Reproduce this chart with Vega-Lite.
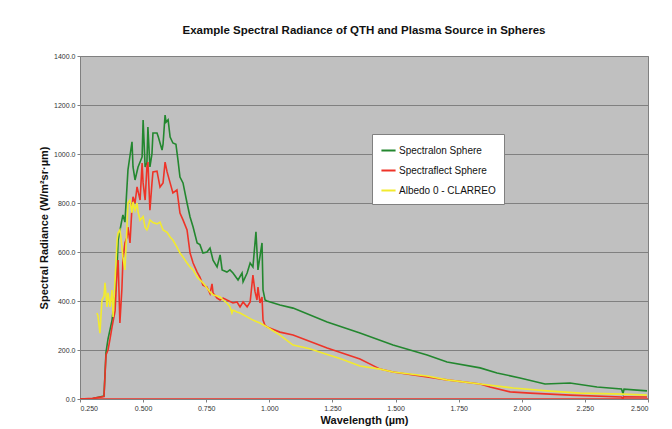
{
  "$schema": "https://vega.github.io/schema/vega-lite/v6.json",
  "width": 568,
  "height": 343,
  "autosize": {"type": "none"},
  "padding": {"left": 80, "top": 56, "right": 24, "bottom": 30},
  "background": "white",
  "title": {"text": "Example Spectral Radiance of QTH and Plasma Source in Spheres", "font": "Liberation Sans", "fontSize": 11.5, "fontWeight": "bold", "color": "#111111", "offset": 16, "anchor": "middle"},
  "config": {
    "view": {"fill": "#C0C0C0", "stroke": "#808080", "strokeWidth": 1},
    "font": "Liberation Sans"
  },
  "datasets": {
    "spec": [
      {"s": "Spectralon Sphere", "g": "a", "w": 0.250, "r": 0},
      {"s": "Spectralon Sphere", "g": "a", "w": 0.300, "r": 2},
      {"s": "Spectralon Sphere", "g": "a", "w": 0.345, "r": 12},
      {"s": "Spectralon Sphere", "g": "a", "w": 0.353, "r": 190},
      {"s": "Spectralon Sphere", "g": "a", "w": 0.361, "r": 245},
      {"s": "Spectralon Sphere", "g": "a", "w": 0.377, "r": 322},
      {"s": "Spectralon Sphere", "g": "a", "w": 0.389, "r": 433},
      {"s": "Spectralon Sphere", "g": "a", "w": 0.397, "r": 539},
      {"s": "Spectralon Sphere", "g": "a", "w": 0.401, "r": 649},
      {"s": "Spectralon Sphere", "g": "a", "w": 0.416, "r": 731},
      {"s": "Spectralon Sphere", "g": "a", "w": 0.420, "r": 751},
      {"s": "Spectralon Sphere", "g": "a", "w": 0.428, "r": 722},
      {"s": "Spectralon Sphere", "g": "a", "w": 0.440, "r": 935},
      {"s": "Spectralon Sphere", "g": "a", "w": 0.456, "r": 1050},
      {"s": "Spectralon Sphere", "g": "a", "w": 0.460, "r": 947},
      {"s": "Spectralon Sphere", "g": "a", "w": 0.468, "r": 894},
      {"s": "Spectralon Sphere", "g": "a", "w": 0.480, "r": 947},
      {"s": "Spectralon Sphere", "g": "a", "w": 0.496, "r": 988},
      {"s": "Spectralon Sphere", "g": "a", "w": 0.500, "r": 1139},
      {"s": "Spectralon Sphere", "g": "a", "w": 0.508, "r": 947},
      {"s": "Spectralon Sphere", "g": "a", "w": 0.515, "r": 963},
      {"s": "Spectralon Sphere", "g": "a", "w": 0.519, "r": 1110},
      {"s": "Spectralon Sphere", "g": "a", "w": 0.527, "r": 947},
      {"s": "Spectralon Sphere", "g": "a", "w": 0.535, "r": 1000},
      {"s": "Spectralon Sphere", "g": "a", "w": 0.539, "r": 1086},
      {"s": "Spectralon Sphere", "g": "a", "w": 0.555, "r": 1086},
      {"s": "Spectralon Sphere", "g": "a", "w": 0.560, "r": 1070},
      {"s": "Spectralon Sphere", "g": "a", "w": 0.575, "r": 1016},
      {"s": "Spectralon Sphere", "g": "a", "w": 0.579, "r": 1040},
      {"s": "Spectralon Sphere", "g": "a", "w": 0.587, "r": 1159},
      {"s": "Spectralon Sphere", "g": "a", "w": 0.591, "r": 1130},
      {"s": "Spectralon Sphere", "g": "a", "w": 0.599, "r": 1139},
      {"s": "Spectralon Sphere", "g": "a", "w": 0.607, "r": 1069},
      {"s": "Spectralon Sphere", "g": "a", "w": 0.618, "r": 1045},
      {"s": "Spectralon Sphere", "g": "a", "w": 0.630, "r": 1040},
      {"s": "Spectralon Sphere", "g": "a", "w": 0.638, "r": 976},
      {"s": "Spectralon Sphere", "g": "a", "w": 0.646, "r": 906},
      {"s": "Spectralon Sphere", "g": "a", "w": 0.658, "r": 882},
      {"s": "Spectralon Sphere", "g": "a", "w": 0.674, "r": 800},
      {"s": "Spectralon Sphere", "g": "a", "w": 0.686, "r": 743},
      {"s": "Spectralon Sphere", "g": "a", "w": 0.698, "r": 702},
      {"s": "Spectralon Sphere", "g": "a", "w": 0.714, "r": 637},
      {"s": "Spectralon Sphere", "g": "a", "w": 0.725, "r": 630},
      {"s": "Spectralon Sphere", "g": "a", "w": 0.737, "r": 596},
      {"s": "Spectralon Sphere", "g": "a", "w": 0.753, "r": 600},
      {"s": "Spectralon Sphere", "g": "a", "w": 0.765, "r": 616},
      {"s": "Spectralon Sphere", "g": "a", "w": 0.777, "r": 567},
      {"s": "Spectralon Sphere", "g": "a", "w": 0.793, "r": 539},
      {"s": "Spectralon Sphere", "g": "a", "w": 0.805, "r": 588},
      {"s": "Spectralon Sphere", "g": "a", "w": 0.813, "r": 527},
      {"s": "Spectralon Sphere", "g": "a", "w": 0.832, "r": 518},
      {"s": "Spectralon Sphere", "g": "a", "w": 0.844, "r": 527},
      {"s": "Spectralon Sphere", "g": "a", "w": 0.856, "r": 514},
      {"s": "Spectralon Sphere", "g": "a", "w": 0.876, "r": 486},
      {"s": "Spectralon Sphere", "g": "a", "w": 0.892, "r": 514},
      {"s": "Spectralon Sphere", "g": "a", "w": 0.896, "r": 478},
      {"s": "Spectralon Sphere", "g": "a", "w": 0.912, "r": 514},
      {"s": "Spectralon Sphere", "g": "a", "w": 0.924, "r": 555},
      {"s": "Spectralon Sphere", "g": "a", "w": 0.935, "r": 539},
      {"s": "Spectralon Sphere", "g": "a", "w": 0.947, "r": 682},
      {"s": "Spectralon Sphere", "g": "a", "w": 0.955, "r": 527},
      {"s": "Spectralon Sphere", "g": "a", "w": 0.971, "r": 637},
      {"s": "Spectralon Sphere", "g": "a", "w": 0.975, "r": 445},
      {"s": "Spectralon Sphere", "g": "a", "w": 0.983, "r": 404},
      {"s": "Spectralon Sphere", "g": "a", "w": 0.991, "r": 400},
      {"s": "Spectralon Sphere", "g": "a", "w": 1.042, "r": 384},
      {"s": "Spectralon Sphere", "g": "a", "w": 1.094, "r": 371},
      {"s": "Spectralon Sphere", "g": "a", "w": 1.229, "r": 314},
      {"s": "Spectralon Sphere", "g": "a", "w": 1.359, "r": 269},
      {"s": "Spectralon Sphere", "g": "a", "w": 1.490, "r": 220},
      {"s": "Spectralon Sphere", "g": "a", "w": 1.625, "r": 180},
      {"s": "Spectralon Sphere", "g": "a", "w": 1.704, "r": 151},
      {"s": "Spectralon Sphere", "g": "a", "w": 1.835, "r": 127},
      {"s": "Spectralon Sphere", "g": "a", "w": 1.902, "r": 106},
      {"s": "Spectralon Sphere", "g": "a", "w": 1.993, "r": 86},
      {"s": "Spectralon Sphere", "g": "a", "w": 2.092, "r": 61},
      {"s": "Spectralon Sphere", "g": "a", "w": 2.191, "r": 65},
      {"s": "Spectralon Sphere", "g": "a", "w": 2.298, "r": 49},
      {"s": "Spectralon Sphere", "g": "a", "w": 2.395, "r": 41},
      {"s": "Spectralon Sphere", "g": "a", "w": 2.401, "r": 22},
      {"s": "Spectralon Sphere", "g": "a", "w": 2.405, "r": 40},
      {"s": "Spectralon Sphere", "g": "a", "w": 2.496, "r": 33},

      {"s": "Spectraflect Sphere", "g": "a", "w": 0.250, "r": 0},
      {"s": "Spectraflect Sphere", "g": "a", "w": 0.300, "r": 3},
      {"s": "Spectraflect Sphere", "g": "a", "w": 0.345, "r": 10},
      {"s": "Spectraflect Sphere", "g": "a", "w": 0.353, "r": 180},
      {"s": "Spectraflect Sphere", "g": "a", "w": 0.361, "r": 200},
      {"s": "Spectraflect Sphere", "g": "a", "w": 0.369, "r": 245},
      {"s": "Spectraflect Sphere", "g": "a", "w": 0.377, "r": 294},
      {"s": "Spectraflect Sphere", "g": "a", "w": 0.389, "r": 360},
      {"s": "Spectraflect Sphere", "g": "a", "w": 0.397, "r": 527},
      {"s": "Spectraflect Sphere", "g": "a", "w": 0.401, "r": 567},
      {"s": "Spectraflect Sphere", "g": "a", "w": 0.408, "r": 310},
      {"s": "Spectraflect Sphere", "g": "a", "w": 0.416, "r": 450},
      {"s": "Spectraflect Sphere", "g": "a", "w": 0.420, "r": 567},
      {"s": "Spectraflect Sphere", "g": "a", "w": 0.428, "r": 637},
      {"s": "Spectraflect Sphere", "g": "a", "w": 0.436, "r": 660},
      {"s": "Spectraflect Sphere", "g": "a", "w": 0.440, "r": 702},
      {"s": "Spectraflect Sphere", "g": "a", "w": 0.448, "r": 637},
      {"s": "Spectraflect Sphere", "g": "a", "w": 0.456, "r": 784},
      {"s": "Spectraflect Sphere", "g": "a", "w": 0.460, "r": 825},
      {"s": "Spectraflect Sphere", "g": "a", "w": 0.468, "r": 800},
      {"s": "Spectraflect Sphere", "g": "a", "w": 0.476, "r": 866},
      {"s": "Spectraflect Sphere", "g": "a", "w": 0.488, "r": 812},
      {"s": "Spectraflect Sphere", "g": "a", "w": 0.496, "r": 963},
      {"s": "Spectraflect Sphere", "g": "a", "w": 0.500, "r": 882},
      {"s": "Spectraflect Sphere", "g": "a", "w": 0.508, "r": 812},
      {"s": "Spectraflect Sphere", "g": "a", "w": 0.515, "r": 947},
      {"s": "Spectraflect Sphere", "g": "a", "w": 0.519, "r": 967},
      {"s": "Spectraflect Sphere", "g": "a", "w": 0.527, "r": 771},
      {"s": "Spectraflect Sphere", "g": "a", "w": 0.535, "r": 880},
      {"s": "Spectraflect Sphere", "g": "a", "w": 0.539, "r": 927},
      {"s": "Spectraflect Sphere", "g": "a", "w": 0.555, "r": 930},
      {"s": "Spectraflect Sphere", "g": "a", "w": 0.567, "r": 865},
      {"s": "Spectraflect Sphere", "g": "a", "w": 0.579, "r": 882},
      {"s": "Spectraflect Sphere", "g": "a", "w": 0.587, "r": 967},
      {"s": "Spectraflect Sphere", "g": "a", "w": 0.595, "r": 927},
      {"s": "Spectraflect Sphere", "g": "a", "w": 0.607, "r": 882},
      {"s": "Spectraflect Sphere", "g": "a", "w": 0.618, "r": 841},
      {"s": "Spectraflect Sphere", "g": "a", "w": 0.634, "r": 853},
      {"s": "Spectraflect Sphere", "g": "a", "w": 0.646, "r": 759},
      {"s": "Spectraflect Sphere", "g": "a", "w": 0.658, "r": 731},
      {"s": "Spectraflect Sphere", "g": "a", "w": 0.674, "r": 690},
      {"s": "Spectraflect Sphere", "g": "a", "w": 0.686, "r": 596},
      {"s": "Spectraflect Sphere", "g": "a", "w": 0.698, "r": 555},
      {"s": "Spectraflect Sphere", "g": "a", "w": 0.714, "r": 518},
      {"s": "Spectraflect Sphere", "g": "a", "w": 0.725, "r": 498},
      {"s": "Spectraflect Sphere", "g": "a", "w": 0.737, "r": 465},
      {"s": "Spectraflect Sphere", "g": "a", "w": 0.753, "r": 457},
      {"s": "Spectraflect Sphere", "g": "a", "w": 0.765, "r": 430},
      {"s": "Spectraflect Sphere", "g": "a", "w": 0.773, "r": 470},
      {"s": "Spectraflect Sphere", "g": "a", "w": 0.777, "r": 433},
      {"s": "Spectraflect Sphere", "g": "a", "w": 0.793, "r": 412},
      {"s": "Spectraflect Sphere", "g": "a", "w": 0.805, "r": 404},
      {"s": "Spectraflect Sphere", "g": "a", "w": 0.817, "r": 412},
      {"s": "Spectraflect Sphere", "g": "a", "w": 0.832, "r": 404},
      {"s": "Spectraflect Sphere", "g": "a", "w": 0.856, "r": 392},
      {"s": "Spectraflect Sphere", "g": "a", "w": 0.872, "r": 396},
      {"s": "Spectraflect Sphere", "g": "a", "w": 0.884, "r": 376},
      {"s": "Spectraflect Sphere", "g": "a", "w": 0.896, "r": 396},
      {"s": "Spectraflect Sphere", "g": "a", "w": 0.912, "r": 376},
      {"s": "Spectraflect Sphere", "g": "a", "w": 0.924, "r": 396},
      {"s": "Spectraflect Sphere", "g": "a", "w": 0.935, "r": 506},
      {"s": "Spectraflect Sphere", "g": "a", "w": 0.943, "r": 440},
      {"s": "Spectraflect Sphere", "g": "a", "w": 0.951, "r": 404},
      {"s": "Spectraflect Sphere", "g": "a", "w": 0.955, "r": 457},
      {"s": "Spectraflect Sphere", "g": "a", "w": 0.963, "r": 392},
      {"s": "Spectraflect Sphere", "g": "a", "w": 0.971, "r": 416},
      {"s": "Spectraflect Sphere", "g": "a", "w": 0.975, "r": 322},
      {"s": "Spectraflect Sphere", "g": "a", "w": 0.983, "r": 300},
      {"s": "Spectraflect Sphere", "g": "a", "w": 0.991, "r": 294},
      {"s": "Spectraflect Sphere", "g": "a", "w": 1.042, "r": 273},
      {"s": "Spectraflect Sphere", "g": "a", "w": 1.094, "r": 261},
      {"s": "Spectraflect Sphere", "g": "a", "w": 1.229, "r": 208},
      {"s": "Spectraflect Sphere", "g": "a", "w": 1.359, "r": 163},
      {"s": "Spectraflect Sphere", "g": "a", "w": 1.439, "r": 122},
      {"s": "Spectraflect Sphere", "g": "a", "w": 1.490, "r": 110},
      {"s": "Spectraflect Sphere", "g": "a", "w": 1.625, "r": 90},
      {"s": "Spectraflect Sphere", "g": "a", "w": 1.704, "r": 78},
      {"s": "Spectraflect Sphere", "g": "a", "w": 1.835, "r": 61},
      {"s": "Spectraflect Sphere", "g": "a", "w": 1.874, "r": 49},
      {"s": "Spectraflect Sphere", "g": "a", "w": 1.954, "r": 29},
      {"s": "Spectraflect Sphere", "g": "a", "w": 2.033, "r": 24},
      {"s": "Spectraflect Sphere", "g": "a", "w": 2.191, "r": 16},
      {"s": "Spectraflect Sphere", "g": "a", "w": 2.395, "r": 8},
      {"s": "Spectraflect Sphere", "g": "a", "w": 2.401, "r": 0},
      {"s": "Spectraflect Sphere", "g": "a", "w": 2.403, "r": 9},
      {"s": "Spectraflect Sphere", "g": "a", "w": 2.496, "r": 8},
      {"s": "Spectraflect Sphere", "g": "b", "w": 0.250, "r": 0},
      {"s": "Spectraflect Sphere", "g": "b", "w": 2.500, "r": 0},

      {"s": "Albedo 0 - CLARREO", "g": "a", "w": 0.317, "r": 351},
      {"s": "Albedo 0 - CLARREO", "g": "a", "w": 0.321, "r": 340},
      {"s": "Albedo 0 - CLARREO", "g": "a", "w": 0.329, "r": 269},
      {"s": "Albedo 0 - CLARREO", "g": "a", "w": 0.337, "r": 404},
      {"s": "Albedo 0 - CLARREO", "g": "a", "w": 0.345, "r": 420},
      {"s": "Albedo 0 - CLARREO", "g": "a", "w": 0.349, "r": 474},
      {"s": "Albedo 0 - CLARREO", "g": "a", "w": 0.357, "r": 376},
      {"s": "Albedo 0 - CLARREO", "g": "a", "w": 0.361, "r": 433},
      {"s": "Albedo 0 - CLARREO", "g": "a", "w": 0.369, "r": 376},
      {"s": "Albedo 0 - CLARREO", "g": "a", "w": 0.377, "r": 445},
      {"s": "Albedo 0 - CLARREO", "g": "a", "w": 0.381, "r": 335},
      {"s": "Albedo 0 - CLARREO", "g": "a", "w": 0.389, "r": 486},
      {"s": "Albedo 0 - CLARREO", "g": "a", "w": 0.397, "r": 649},
      {"s": "Albedo 0 - CLARREO", "g": "a", "w": 0.401, "r": 678},
      {"s": "Albedo 0 - CLARREO", "g": "a", "w": 0.408, "r": 690},
      {"s": "Albedo 0 - CLARREO", "g": "a", "w": 0.412, "r": 660},
      {"s": "Albedo 0 - CLARREO", "g": "a", "w": 0.420, "r": 580},
      {"s": "Albedo 0 - CLARREO", "g": "a", "w": 0.428, "r": 527},
      {"s": "Albedo 0 - CLARREO", "g": "a", "w": 0.436, "r": 702},
      {"s": "Albedo 0 - CLARREO", "g": "a", "w": 0.440, "r": 800},
      {"s": "Albedo 0 - CLARREO", "g": "a", "w": 0.448, "r": 812},
      {"s": "Albedo 0 - CLARREO", "g": "a", "w": 0.456, "r": 760},
      {"s": "Albedo 0 - CLARREO", "g": "a", "w": 0.460, "r": 804},
      {"s": "Albedo 0 - CLARREO", "g": "a", "w": 0.468, "r": 770},
      {"s": "Albedo 0 - CLARREO", "g": "a", "w": 0.476, "r": 800},
      {"s": "Albedo 0 - CLARREO", "g": "a", "w": 0.480, "r": 763},
      {"s": "Albedo 0 - CLARREO", "g": "a", "w": 0.488, "r": 730},
      {"s": "Albedo 0 - CLARREO", "g": "a", "w": 0.500, "r": 745},
      {"s": "Albedo 0 - CLARREO", "g": "a", "w": 0.508, "r": 700},
      {"s": "Albedo 0 - CLARREO", "g": "a", "w": 0.515, "r": 690},
      {"s": "Albedo 0 - CLARREO", "g": "a", "w": 0.519, "r": 700},
      {"s": "Albedo 0 - CLARREO", "g": "a", "w": 0.527, "r": 731},
      {"s": "Albedo 0 - CLARREO", "g": "a", "w": 0.539, "r": 720},
      {"s": "Albedo 0 - CLARREO", "g": "a", "w": 0.555, "r": 715},
      {"s": "Albedo 0 - CLARREO", "g": "a", "w": 0.567, "r": 722},
      {"s": "Albedo 0 - CLARREO", "g": "a", "w": 0.579, "r": 690},
      {"s": "Albedo 0 - CLARREO", "g": "a", "w": 0.595, "r": 680},
      {"s": "Albedo 0 - CLARREO", "g": "a", "w": 0.607, "r": 661},
      {"s": "Albedo 0 - CLARREO", "g": "a", "w": 0.618, "r": 649},
      {"s": "Albedo 0 - CLARREO", "g": "a", "w": 0.634, "r": 620},
      {"s": "Albedo 0 - CLARREO", "g": "a", "w": 0.646, "r": 596},
      {"s": "Albedo 0 - CLARREO", "g": "a", "w": 0.658, "r": 580},
      {"s": "Albedo 0 - CLARREO", "g": "a", "w": 0.674, "r": 555},
      {"s": "Albedo 0 - CLARREO", "g": "a", "w": 0.686, "r": 539},
      {"s": "Albedo 0 - CLARREO", "g": "a", "w": 0.698, "r": 527},
      {"s": "Albedo 0 - CLARREO", "g": "a", "w": 0.714, "r": 498},
      {"s": "Albedo 0 - CLARREO", "g": "a", "w": 0.725, "r": 486},
      {"s": "Albedo 0 - CLARREO", "g": "a", "w": 0.737, "r": 474},
      {"s": "Albedo 0 - CLARREO", "g": "a", "w": 0.753, "r": 453},
      {"s": "Albedo 0 - CLARREO", "g": "a", "w": 0.765, "r": 437},
      {"s": "Albedo 0 - CLARREO", "g": "a", "w": 0.777, "r": 425},
      {"s": "Albedo 0 - CLARREO", "g": "a", "w": 0.805, "r": 416},
      {"s": "Albedo 0 - CLARREO", "g": "a", "w": 0.817, "r": 404},
      {"s": "Albedo 0 - CLARREO", "g": "a", "w": 0.832, "r": 392},
      {"s": "Albedo 0 - CLARREO", "g": "a", "w": 0.844, "r": 376},
      {"s": "Albedo 0 - CLARREO", "g": "a", "w": 0.852, "r": 351},
      {"s": "Albedo 0 - CLARREO", "g": "a", "w": 0.856, "r": 363},
      {"s": "Albedo 0 - CLARREO", "g": "a", "w": 0.872, "r": 355},
      {"s": "Albedo 0 - CLARREO", "g": "a", "w": 0.884, "r": 351},
      {"s": "Albedo 0 - CLARREO", "g": "a", "w": 0.912, "r": 335},
      {"s": "Albedo 0 - CLARREO", "g": "a", "w": 0.935, "r": 322},
      {"s": "Albedo 0 - CLARREO", "g": "a", "w": 0.963, "r": 310},
      {"s": "Albedo 0 - CLARREO", "g": "a", "w": 0.991, "r": 294},
      {"s": "Albedo 0 - CLARREO", "g": "a", "w": 1.042, "r": 261},
      {"s": "Albedo 0 - CLARREO", "g": "a", "w": 1.094, "r": 220},
      {"s": "Albedo 0 - CLARREO", "g": "a", "w": 1.160, "r": 205},
      {"s": "Albedo 0 - CLARREO", "g": "a", "w": 1.229, "r": 182},
      {"s": "Albedo 0 - CLARREO", "g": "a", "w": 1.280, "r": 165},
      {"s": "Albedo 0 - CLARREO", "g": "a", "w": 1.359, "r": 135},
      {"s": "Albedo 0 - CLARREO", "g": "a", "w": 1.439, "r": 122},
      {"s": "Albedo 0 - CLARREO", "g": "a", "w": 1.490, "r": 110},
      {"s": "Albedo 0 - CLARREO", "g": "a", "w": 1.625, "r": 94},
      {"s": "Albedo 0 - CLARREO", "g": "a", "w": 1.704, "r": 78},
      {"s": "Albedo 0 - CLARREO", "g": "a", "w": 1.835, "r": 61},
      {"s": "Albedo 0 - CLARREO", "g": "a", "w": 1.966, "r": 45},
      {"s": "Albedo 0 - CLARREO", "g": "a", "w": 2.100, "r": 33},
      {"s": "Albedo 0 - CLARREO", "g": "a", "w": 2.231, "r": 24},
      {"s": "Albedo 0 - CLARREO", "g": "a", "w": 2.401, "r": 20},
      {"s": "Albedo 0 - CLARREO", "g": "a", "w": 2.496, "r": 16}
    ]
  },
  "data": {"name": "spec"},
  "mark": {"type": "line", "strokeWidth": 1.6, "clip": true},
  "encoding": {
    "x": {
      "field": "w", "type": "quantitative",
      "scale": {"domain": [0.25, 2.5], "nice": false, "zero": false},
      "axis": {
        "values": [0.25, 0.5, 0.75, 1.0, 1.25, 1.5, 1.75, 2.0, 2.25, 2.5],
        "format": ".3f", "grid": false,
        "title": "Wavelength (µm)", "titleFont": "Liberation Sans", "titleFontSize": 11, "titleFontWeight": "bold", "titleColor": "#111111", "titlePadding": 3,
        "labelFont": "Liberation Sans", "labelFontSize": 7, "labelColor": "#333333", "labelPadding": 2,
        "tickSize": 3, "tickColor": "#808080", "domainColor": "#808080"
      }
    },
    "y": {
      "field": "r", "type": "quantitative",
      "scale": {"domain": [0, 1400], "nice": false},
      "axis": {
        "values": [0, 200, 400, 600, 800, 1000, 1200, 1400],
        "format": ".1f", "grid": true, "gridColor": "#808080", "gridWidth": 1.2,
        "title": "Spectral Radiance (W/m²sr·µm)", "titleFont": "Liberation Sans", "titleFontSize": 11, "titleFontWeight": "bold", "titleColor": "#111111", "titlePadding": 4,
        "labelFont": "Liberation Sans", "labelFontSize": 7, "labelColor": "#333333", "labelPadding": 2,
        "tickSize": 3, "tickColor": "#808080", "domainColor": "#808080"
      }
    },
    "color": {
      "field": "s", "type": "nominal",
      "scale": {"domain": ["Spectralon Sphere", "Spectraflect Sphere", "Albedo 0 - CLARREO"], "range": ["#23872F", "#EE3328", "#F2EA2E"]},
      "legend": {
        "title": null, "orient": "none", "legendX": 292, "legendY": 78,
        "symbolType": "stroke", "symbolSize": 200, "symbolStrokeWidth": 2,
        "labelFont": "Liberation Sans", "labelFontSize": 10, "labelColor": "#111111",
        "rowPadding": 6, "padding": 8, "fillColor": "white", "strokeColor": "#808080",
        "labelOffset": 2
      }
    },
    "detail": {"field": "g", "type": "nominal"}
  }
}
